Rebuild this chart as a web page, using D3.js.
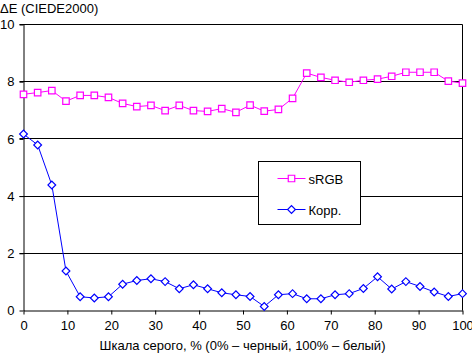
<!DOCTYPE html>
<html>
<head>
<meta charset="utf-8">
<script src="https://cdn.jsdelivr.net/npm/d3@7"></script>
<style>
  body { margin: 0; background: #fff; }
  text { font-family: "Liberation Sans", Arial, sans-serif; }
</style>
</head>
<body>
<div id="chart"></div>
<script>
// Data (32 grey levels, 0..100 %)
const srgbValues = [7.56, 7.62, 7.69, 7.32, 7.52, 7.52, 7.45, 7.24, 7.13, 7.17,
                    6.99, 7.17, 6.99, 6.96, 7.06, 6.93, 7.18, 6.97, 7.03, 7.42,
                    8.30, 8.15, 8.05, 7.98, 8.05, 8.09, 8.19, 8.33, 8.33, 8.33,
                    8.02, 7.95]
const korrValues = [6.17, 5.79, 4.39, 1.38, 0.48, 0.44, 0.48, 0.92, 1.05, 1.11,
                    1.01, 0.76, 0.90, 0.76, 0.62, 0.55, 0.49, 0.14, 0.55, 0.59,
                    0.41, 0.41, 0.55, 0.59, 0.77, 1.18, 0.75, 1.01, 0.84, 0.65,
                    0.49, 0.59]
const seriesNames = ["sRGB", "Корр."]
const xTicks = [0, 10, 20, 30, 40, 50, 60, 70, 80, 90, 100]
const yTicks = [0, 2, 4, 6, 8, 10]

const greyLevels = srgbValues.map((d, i) => i * 100 / (srgbValues.length - 1))

// Dimensions
let dimensions = {
    width: 472,
    height: 353,
    margin: { top: 24, right: 10, bottom: 43, left: 23 },
}
dimensions.boundedWidth = dimensions.width - dimensions.margin.left - dimensions.margin.right
dimensions.boundedHeight = dimensions.height - dimensions.margin.top - dimensions.margin.bottom

const svg = d3.select("#chart")
    .append("svg")
        .attr("width", dimensions.width)
        .attr("height", dimensions.height)
const bounds = svg.append("g")
    .attr("transform", `translate(${dimensions.margin.left + 0.5},${dimensions.margin.top + 0.5})`)

// Scales
const xScale = d3.scaleLinear()
    .domain([0, 100])
    .range([0, dimensions.boundedWidth])
const yScale = d3.scaleLinear()
    .domain([0, 10])
    .range([dimensions.boundedHeight, 0])

// Gridlines
bounds.append("g")
    .selectAll("line")
    .data(yTicks.filter(d => d > 0))
    .join("line")
        .attr("x1", -4)
        .attr("x2", dimensions.boundedWidth)
        .attr("y1", d => Math.round(yScale(d)))
        .attr("y2", d => Math.round(yScale(d)))
        .attr("stroke", "#000")
bounds.append("line")
    .attr("x1", dimensions.boundedWidth).attr("x2", dimensions.boundedWidth)
    .attr("y1", 0).attr("y2", dimensions.boundedHeight)
    .attr("stroke", "#000")

// Axes
const xAxis = bounds.append("g")
    .attr("transform", `translate(0,${dimensions.boundedHeight})`)
    .call(d3.axisBottom(xScale).tickValues(xTicks).tickSizeInner(4).tickSizeOuter(0).tickPadding(6))
const yAxis = bounds.append("g")
    .call(d3.axisLeft(yScale).tickValues(yTicks).tickSizeInner(4).tickSizeOuter(0).tickPadding(5))
bounds.selectAll(".domain, .tick line").attr("stroke", "#000")
bounds.selectAll(".tick text")
    .attr("fill", "#000")
    .style("font-size", "13px")
    .style("font-family", "'Liberation Sans', Arial, sans-serif")

// Lines
const series = [
    { name: seriesNames[0], values: srgbValues, color: "#ff00ff", rotate: 0, size: 42 },
    { name: seriesNames[1], values: korrValues, color: "#0000ff", rotate: 45, size: 30 },
]
const lineGenerator = d3.line()
    .x((d, i) => xScale(greyLevels[i]))
    .y(d => yScale(d))

series.forEach(s => {
    bounds.append("path")
        .attr("d", lineGenerator(s.values))
        .attr("fill", "none")
        .attr("stroke", s.color)
        .attr("stroke-width", 1)
    bounds.append("g")
        .selectAll("path")
        .data(s.values)
        .join("path")
            .attr("d", d3.symbol().type(d3.symbolSquare).size(s.size))
            .attr("transform", (d, i) => `translate(${xScale(greyLevels[i])},${yScale(d)}) rotate(${s.rotate})`)
            .attr("fill", "#fff")
            .attr("stroke", s.color)
            .attr("stroke-width", 1.2)
})

// Legend
const legend = svg.append("g")
    .attr("transform", "translate(258.5,161.5)")
legend.append("rect")
    .attr("width", 102)
    .attr("height", 63)
    .attr("fill", "#fff")
    .attr("stroke", "#000")
series.forEach((s, i) => {
    const y = 17 + i * 31
    legend.append("line")
        .attr("x1", 19).attr("x2", 47)
        .attr("y1", y).attr("y2", y)
        .attr("stroke", s.color)
    legend.append("path")
        .attr("d", d3.symbol().type(d3.symbolSquare).size(s.size))
        .attr("transform", `translate(33,${y}) rotate(${s.rotate})`)
        .attr("fill", "#fff")
        .attr("stroke", s.color)
        .attr("stroke-width", 1.2)
    legend.append("text")
        .attr("x", 50)
        .attr("y", y + 5)
        .style("font-size", "13px")
        .text(s.name)
})

// Titles
svg.append("text")
    .attr("x", 0)
    .attr("y", 13)
    .style("font-size", "13px")
    .text("ΔE (CIEDE2000)")
svg.append("text")
    .attr("x", dimensions.margin.left + dimensions.boundedWidth / 2)
    .attr("y", 350)
    .attr("text-anchor", "middle")
    .style("font-size", "13px")
    .text("Шкала серого, % (0% – черный, 100% – белый)")
</script>
</body>
</html>
